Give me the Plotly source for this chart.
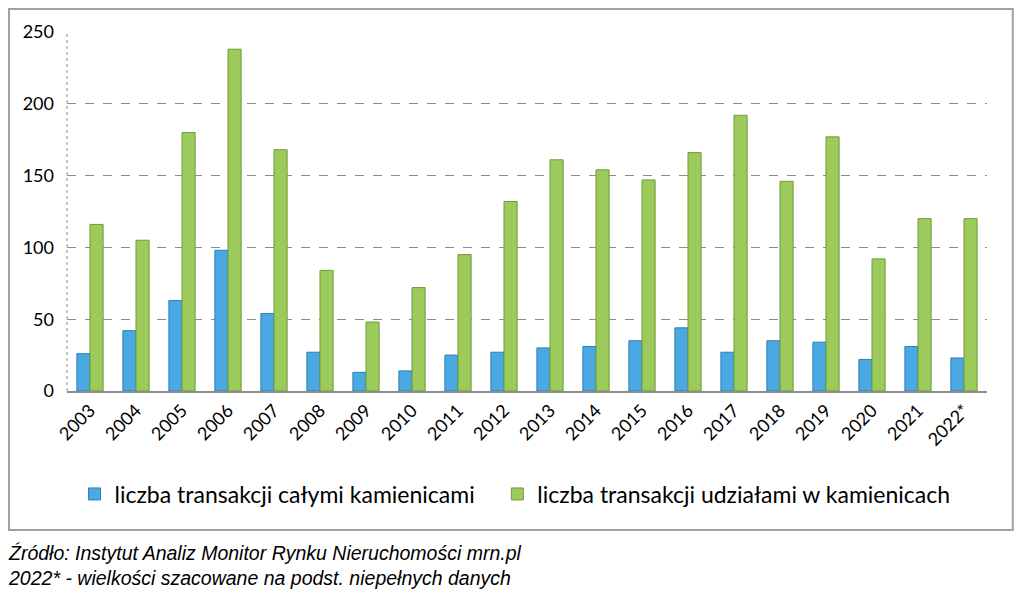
#bar chart of tenement transactions, whole vs shares
import plotly.graph_objects as go

# data
years = ['2003', '2004', '2005', '2006', '2007', '2008', '2009', '2010', '2011', '2012',
         '2013', '2014', '2015', '2016', '2017', '2018', '2019', '2020', '2021', '2022*']
whole = [26, 42, 63, 98, 54, 27, 13, 14, 25, 27, 30, 31, 35, 44, 27, 35, 34, 22, 31, 23]
shares = [116, 105, 180, 238, 168, 84, 48, 72, 95, 132, 161, 154, 147, 166, 192, 146, 177, 92, 120, 120]

fig = go.Figure()
# non-breaking spaces pad the gap between legend entries
fig.add_trace(go.Bar(x=years, y=whole, name='liczba transakcji całymi kamienicami\u00a0\u00a0\u00a0',
                     marker=dict(color='#4aa8e3', line=dict(color='#2e7fb5', width=1))))
fig.add_trace(go.Bar(x=years, y=shares, name='liczba transakcji udziałami w kamienicach',
                     marker=dict(color='#9ccb5c', line=dict(color='#6f9a3a', width=1))))

# layout (page body has 8px margin, so figure is 1016x600)
fig.update_layout(width=1016, height=600,
    margin=dict(l=59, r=37, t=24, b=217),
    paper_bgcolor='white', plot_bgcolor='white',
    barmode='group', bargap=0.43, bargroupgap=0,
    font=dict(family='Lato, sans-serif', color='black', size=18),
    legend=dict(orientation='h', x=0.487, xanchor='center', yref='container',
                y=0.19, yanchor='middle', font=dict(size=23), itemwidth=30,
                traceorder='normal'),
    showlegend=True)

fig.update_yaxes(range=[0, 250], dtick=50, showgrid=True, gridcolor='#8c8c8c',
                 griddash='dash', gridwidth=1, zeroline=False, ticks='',
                 tickfont=dict(size=18), ticklabelstandoff=12)
fig.update_xaxes(showline=True, linewidth=2, linecolor='#8c8c8c', tickangle=-45,
                 tickfont=dict(size=18), ticks='')

# dotted left axis line
fig.add_shape(type='line', xref='paper', yref='paper', x0=0, x1=0, y0=0, y1=1,
              line=dict(color='#8c8c8c', width=1, dash='dot'))

# outer border box
fig.add_shape(type='rect', xref='paper', yref='paper', x0=-0.063, x1=1.028,
              y0=-0.387, y1=1.064, line=dict(color='#a0a0a0', width=2))

# source notes
note_font = dict(family='Liberation Sans, Arial, sans-serif', size=19.5)
fig.add_annotation(xref='paper', yref='paper', x=-0.066, y=-0.451, xanchor='left',
                   yanchor='middle', showarrow=False, font=note_font,
                   text='<i>Źródło: Instytut Analiz Monitor Rynku Nieruchomości mrn.pl</i>')
fig.add_annotation(xref='paper', yref='paper', x=-0.066, y=-0.521, xanchor='left',
                   yanchor='middle', showarrow=False, font=note_font,
                   text='<i>2022* - wielkości szacowane na podst. niepełnych danych</i>')

fig.write_html("out.html")
